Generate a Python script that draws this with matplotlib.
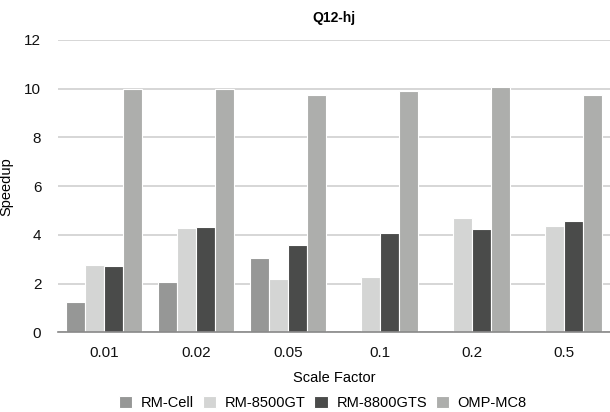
import numpy as np
import matplotlib
matplotlib.use('Agg')
import matplotlib.pyplot as plt

plt.rcParams['font.family'] = ['Liberation Sans', 'DejaVu Sans']

categories = ['0.01', '0.02', '0.05', '0.1', '0.2', '0.5']
series_names = ['RM-Cell', 'RM-8500GT', 'RM-8800GTS', 'OMP-MC8']
rm_cell = [1.25, 2.08, 3.04, 0.0, 0.0, 0.0]
rm_8500gt = [2.78, 4.28, 2.21, 2.29, 4.69, 4.36]
rm_8800gts = [2.74, 4.32, 3.57, 4.07, 4.24, 4.56]
omp_mc8 = [9.98, 9.98, 9.76, 9.92, 10.05, 9.76]
colors = ['#969796', '#d4d5d4', '#4a4b4a', '#adaeac']

fig = plt.figure(figsize=(6.1, 4.12), dpi=100)
ax = fig.add_axes([0.095, 0.193, 0.905, 0.71])

x = np.arange(len(categories))
width = 0.206
all_series = [rm_cell, rm_8500gt, rm_8800gts, omp_mc8]
for i, vals in enumerate(all_series):
    ax.bar(x + (i - 1.5) * width, vals, width, color=colors[i],
           edgecolor='white', linewidth=0.8, label=series_names[i], zorder=3)

ax.set_xlim(-0.5, len(categories) - 0.5)
ax.set_ylim(0, 12)
ax.set_yticks(range(0, 13, 2))
ax.set_xticks(x)
ax.set_xticklabels(categories)
ax.yaxis.grid(True, color='#d0d0d0', linewidth=1.2, zorder=0)
for s in ['top', 'right', 'left']:
    ax.spines[s].set_visible(False)
ax.spines['bottom'].set_color('#888888')
ax.spines['bottom'].set_linewidth(1.2)
ax.spines['bottom'].set_zorder(4)
ax.tick_params(axis='both', length=0, labelsize=11, colors='#111111')
ax.tick_params(axis='y', pad=12)
ax.tick_params(axis='x', pad=10)

ax.set_title('Q12-hj', fontsize=10, fontweight='bold', pad=13)
ax.set_ylabel('Speedup', fontsize=10.5, labelpad=8)
ax.set_xlabel('Scale Factor', fontsize=10.5, labelpad=8)

ax.legend(loc='center', bbox_to_anchor=(0.48, -0.241), ncol=4, frameon=False,
          fontsize=10.5, handlelength=0.9, handleheight=0.9, handletextpad=0.6,
          columnspacing=0.6, borderpad=0)

fig.savefig('out.png', dpi=100)
